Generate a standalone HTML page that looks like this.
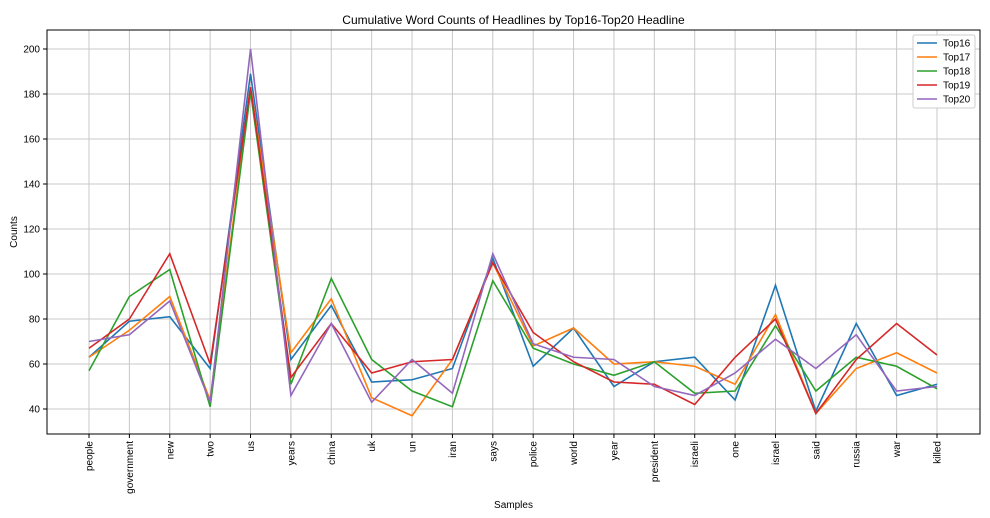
<!DOCTYPE html>
<html><head><meta charset="utf-8"><style>
body{margin:0;background:#fff;}
svg{display:block;font-family:"Liberation Sans","DejaVu Sans",sans-serif;}
</style></head><body>
<svg id="chart" width="990" height="518"></svg>
<script>
const categories=["people","government","new","two","us","years","china","uk","un","iran","says","police","world","year","president","israeli","one","israel","said","russia","war","killed"];
const seriesNames=["Top16","Top17","Top18","Top19","Top20"];
const top16=[63,79,81,58,189,62,86,52,53,58,107,59,76,50,61,63,44,95,39,78,46,51];
const top17=[63,75,90,44,183,65,89,45,37,62,105,68,76,60,61,59,51,82,38,58,65,56];
const top18=[57,90,102,41,181,51,98,62,48,41,97,67,60,55,61,47,48,77,48,63,59,49];
const top19=[67,80,109,60,183,54,78,56,61,62,105,74,61,52,51,42,63,80,38,62,78,64];
const top20=[70,73,88,43,200,46,78,43,62,47,109,69,63,62,50,46,56,71,58,73,48,50];
const yTicks=[40,60,80,100,120,140,160,180,200];
const series=[top16,top17,top18,top19,top20];
const colors=["#1f77b4","#ff7f0e","#2ca02c","#d62728","#9467bd"];
const NS="http://www.w3.org/2000/svg";
const svg=document.getElementById('chart');
const L=47,R=980,T=30,B=434;
const x0=89,xStep=(937-89)/(categories.length-1);
function xs(i){return x0+i*xStep;}
function ys(v){return 499-v*2.25;}
function mk(t,a,p){const e=document.createElementNS(NS,t);for(const k in a)e.setAttribute(k,a[k]);(p||svg).appendChild(e);return e;}
// grid
yTicks.forEach(v=>{
 const g=mk('line',{x1:L,x2:R,y1:ys(v),y2:ys(v),stroke:'#c8c8c8','stroke-width':1});
 
 
 mk('line',{x1:L-4,x2:L,y1:ys(v),y2:ys(v),stroke:'#000'});
 const t=mk('text',{x:L-7,y:ys(v)+3.5,'text-anchor':'end','font-size':10});
 t.textContent=v;
 
 
});
categories.forEach((c,i)=>{
 const g=mk('line',{x1:xs(i),x2:xs(i),y1:T,y2:B,stroke:'#c8c8c8','stroke-width':1});
 
 
 mk('line',{x1:xs(i),x2:xs(i),y1:B,y2:B+4,stroke:'#000'});
 const t=mk('text',{x:0,y:0,'text-anchor':'end','font-size':10,transform:`translate(${xs(i)+3.5},${B+7}) rotate(-90)`});
 t.textContent=c;
 
 
});
series.forEach((s,k)=>{
 const p=mk('polyline',{points:s.map((v,i)=>xs(i)+','+ys(v)).join(' '),fill:'none',stroke:colors[k],'stroke-width':1.6});
 
 
});
const fr=mk('rect',{x:L,y:T,width:R-L,height:B-T,fill:'none',stroke:'#000','stroke-width':1});


const title=mk('text',{x:(L+R)/2,y:24,'text-anchor':'middle','font-size':12});
title.textContent='Cumulative Word Counts of Headlines by Top16-Top20 Headline';


const xt=mk('text',{x:(L+R)/2,y:508,'text-anchor':'middle','font-size':10});
xt.textContent='Samples';


const yt=mk('text',{x:0,y:0,'text-anchor':'middle','font-size':10,transform:`translate(17,${(T+B)/2}) rotate(-90)`});
yt.textContent='Counts';


// legend
const lg=mk('g',{});


mk('rect',{x:913,y:35,width:62,height:73,fill:'#fff',stroke:'#ccc',rx:2},lg);
seriesNames.forEach((n,k)=>{
 const y=43+k*14;
 const e=mk('g',{},lg);
 
 
 mk('line',{x1:917,x2:937,y1:y,y2:y,stroke:colors[k],'stroke-width':1.6},e);
 const t=mk('text',{x:943,y:y+3.5,'font-size':10},e);
 t.textContent=n;
});
</script>
</body></html>
